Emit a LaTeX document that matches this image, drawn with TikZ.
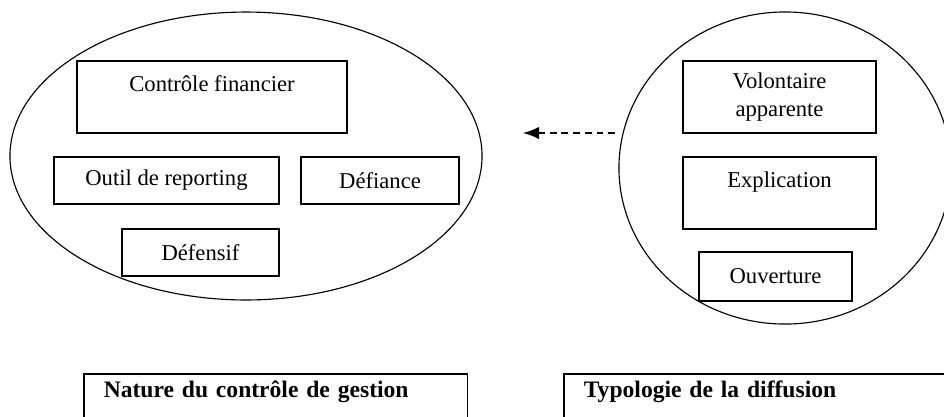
\documentclass[tikz,border=0pt]{standalone}
\usepackage{fontspec}
\setmainfont{Liberation Serif}
\usetikzlibrary{shapes.geometric,arrows.meta}

\tikzset{
	boite/.style={draw=black, line width=0.8pt, fill=white, inner sep=0pt, align=center,
		font=\fontsize{12}{14.5}\selectfont},
	bulle/.style={draw=black, line width=0.6pt, ellipse, inner sep=0pt},
	titre/.style={draw=black, line width=0.8pt, anchor=north west, inner xsep=10.6pt,
		inner ysep=0pt, text height=12.5pt, text depth=30pt, align=left,
		font=\bfseries\fontsize{12.5}{14}\selectfont}
}

\begin{document}
\begin{tikzpicture}[x=0.53pt, y=-0.53pt]
		\useasboundingbox (0,0) rectangle (944,416);
		% les deux ensembles
		\node[bulle, minimum width=250.2pt, minimum height=152.6pt] (nature) at (246,156) {};
		\node[bulle, minimum width=176pt, minimum height=165.4pt] (diffusion) at (785,168) {};

		% nature du controle de gestion
		\node[boite, minimum width=143.1pt, minimum height=38.2pt] (ctrl) at (212,97) {Contrôle financier\\ \mbox{}};
		\node[boite, minimum width=119.3pt, minimum height=24.9pt] (outil) at (166.5,180.5) {Outil de reporting};
		\node[boite, minimum width=83.7pt, minimum height=24.9pt] (defiance) at (380,180.5) {Défiance};
		\node[boite, minimum width=83.2pt, minimum height=24.9pt] (defensif) at (200.5,252.5) {Défensif};

		% typologie de la diffusion
		\node[boite, minimum width=102.3pt, minimum height=38.2pt] (vol) at (779.5,97) {Volontaire\\ apparente};
		\node[boite, minimum width=102.3pt, minimum height=38.2pt] (expl) at (779.5,193) {Explication\\ \mbox{}};
		\node[boite, minimum width=81.1pt, minimum height=26pt] (ouv) at (775.5,276.5) {Ouverture};

		% fleche
		\coordinate (depart) at (615,133);
		\coordinate (arrivee) at (523,133);
		\draw[line width=0.7pt, dash pattern=on 3.6pt off 2.6pt, -{Latex[length=8.5pt,width=6.5pt]}] (depart) -- (arrivee);

		% legendes
		\node[titre, text width=182.3pt] (legnature) at (83,373) {Nature du contrôle de gestion};
		\node[titre, text width=198.8pt] (legdiffusion) at (563,373) {Typologie de la diffusion};
\end{tikzpicture}
\end{document}
